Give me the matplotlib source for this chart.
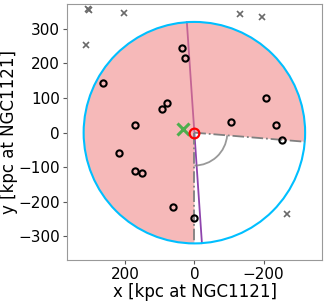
import numpy as np
import matplotlib
matplotlib.use("Agg")
import matplotlib.pyplot as plt
from matplotlib.patches import Wedge, Circle, Arc

# data
R = 320.0
ray_angle = 184.7          # deg, edge of shaded wedge
axis_angle = 86.1          # deg, orientation of purple line
arc_radius = 95.0

sat_x = [37, 27, 263, 80, 93, 173, 218, 173, 150, 61, 0, -206, -107, -235, -253]
sat_y = [244, 215, 144, 85, 68, 21, -58, -112, -117, -214, -247, 101, 30, 21, -21]

out_x = [305, 307, 204, 314, -133, -196, -269]
out_y = [355, 357, 345, 253, 343, 334, -236]

green_x, green_y = [32], [11]
host_x, host_y = [0], [0]

x_ticks = [200, 0, -200]
y_ticks = [-300, -200, -100, 0, 100, 200, 300]

fig = plt.figure(figsize=(3.27, 3.02), dpi=100)
ax = fig.add_axes([0.204, 0.139, 0.783, 0.848])

# purple line through host
a = np.deg2rad(axis_angle)
ax.plot([R*np.cos(a), -R*np.cos(a)], [R*np.sin(a), -R*np.sin(a)],
        color='#8e44ad', lw=1.3, zorder=1)

# shaded wedge
ax.add_patch(Wedge((0, 0), R, -90, ray_angle, facecolor='lightcoral',
                   alpha=0.55, edgecolor='none', zorder=2))
# circle
ax.add_patch(Circle((0, 0), R, facecolor='none', edgecolor='deepskyblue',
                    lw=1.5, zorder=3))
# dash-dot rays
for ang in [270, ray_angle]:
    t = np.deg2rad(ang)
    ax.plot([0, R*np.cos(t)], [0, R*np.sin(t)], color='gray', ls='-.',
            lw=1.3, zorder=3)
# angle arc
ax.add_patch(Arc((0, 0), 2*arc_radius, 2*arc_radius, theta1=ray_angle,
                 theta2=270, color='gray', lw=1.3, alpha=0.8, zorder=3))

ax.plot(out_x, out_y, 'x', color='dimgray', ms=4, mew=1.2, zorder=4)
ax.plot(sat_x, sat_y, 'o', mfc='none', mec='black', ms=4.5, mew=1.5, zorder=5)
ax.plot(green_x, green_y, 'x', color='#4cae4c', ms=8, mew=2.2, zorder=5)
ax.plot(host_x, host_y, 'o', mfc='none', mec='red', ms=7, mew=1.6, zorder=6)

ax.set_xlim(368, -370)
ax.set_ylim(-368, 372)
ax.set_aspect('equal')
ax.set_xticks(x_ticks)
ax.set_yticks(y_ticks)
ax.tick_params(labelsize=11, color='0.35', length=3, pad=2)
for s in ax.spines.values():
    s.set_color('0.6')
ax.set_xlabel('x [kpc at NGC1121]', fontsize=12, labelpad=1)
ax.set_ylabel('y [kpc at NGC1121]', fontsize=12, labelpad=0)

fig.savefig('out.png', dpi=100)
